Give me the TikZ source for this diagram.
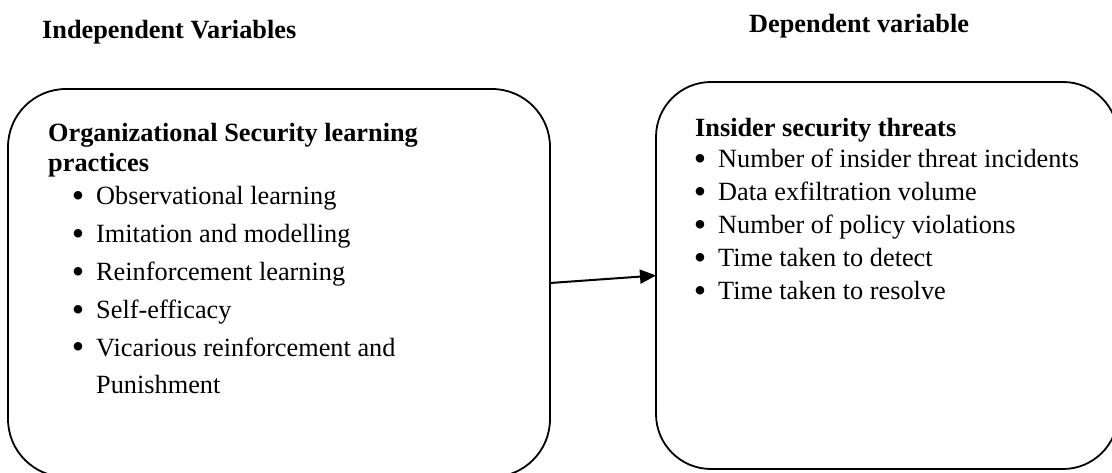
\documentclass[tikz,border=0pt]{standalone}
\usepackage{fontspec}
\setmainfont{Liberation Serif}
\usetikzlibrary{arrows.meta}
\newcommand\itembul{\llap{\raisebox{-2.8pt}{\scalebox{1.35}{\textbullet}}\hspace{12pt}}}
\begin{document}
\begin{tikzpicture}[x=1pt,y=-1pt,
  box/.style={draw=black, line width=1.8pt, rounded corners=#1, inner sep=0pt, outer sep=0pt},
  txt/.style={anchor=base west, inner sep=0pt, font=\fontsize{26.3}{30}\selectfont},
  head/.style={anchor=base west, inner sep=0pt, font=\fontsize{26.3}{30}\selectfont\bfseries},
  link/.style={line width=2pt, -{Triangle[length=16pt,width=14pt]}}]
\useasboundingbox (0,0) rectangle (1112,473);
\clip (0,0) rectangle (1112,473);
\node[box=58pt, minimum width=542pt, minimum height=388pt] (leftbox) at (279,283) {};
\node[box=55pt, minimum width=462pt, minimum height=387pt] (rightbox) at (887,275.5) {};
\draw[link] (leftbox.east) -- (rightbox.west);
% headings
\node[head] (hind) at (42,39) {Independent Variables};
\node[head] (hdep) at (749,33) {Dependent variable};
% left box text
\node[head] (lt1) at (48,142) {Organizational Security learning};
\node[head] (lt2) at (48,172) {practices};
\node[txt] (l1) at (96,205) {\itembul Observational learning};
\node[txt] (l2) at (96,243) {\itembul Imitation and modelling};
\node[txt] (l3) at (96,281) {\itembul Reinforcement learning};
\node[txt] (l4) at (96,319) {\itembul Self-efficacy};
\node[txt] (l5) at (96,356) {\itembul Vicarious reinforcement and};
\node[txt] (l6) at (96,393) {Punishment};
% right box text
\node[head] (rt1) at (695,137) {Insider security threats};
\node[txt] (r1) at (718,168) {\itembul Number of insider threat incidents};
\node[txt] (r2) at (718,201) {\itembul Data exfiltration volume};
\node[txt] (r3) at (718,234) {\itembul Number of policy violations};
\node[txt] (r4) at (718,267) {\itembul Time taken to detect};
\node[txt] (r5) at (718,300) {\itembul Time taken to resolve};
\end{tikzpicture}
\end{document}
